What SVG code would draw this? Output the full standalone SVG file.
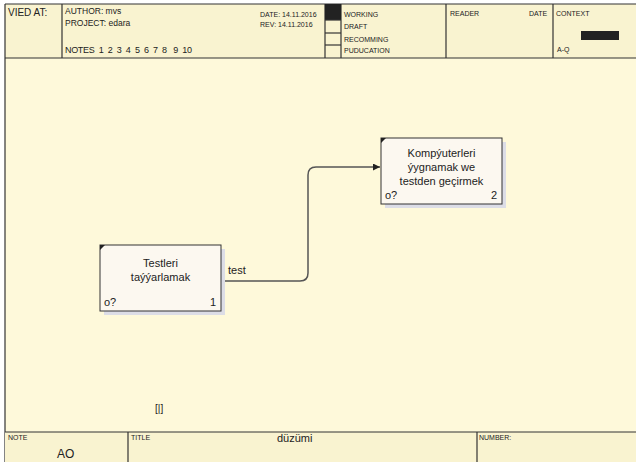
<svg xmlns="http://www.w3.org/2000/svg" width="636" height="462" viewBox="0 0 636 462">
<defs>
<style>
.t{font-family:"Liberation Sans",Arial,sans-serif;fill:#222}
.hs{font-size:7px}
.hm{font-size:8.5px}
.lbl{font-size:11px;fill:#222}
.frame{fill:none;stroke:#333;stroke-width:1.2}
.box{fill:#FCF8F0;stroke:#333;stroke-width:1}
.shadow{fill:#DCDDE6}
.conn{fill:none;stroke:#555;stroke-width:1.5}
</style>
<marker id="arr" viewBox="0 0 10 10" refX="10" refY="5" markerWidth="7" markerHeight="7" orient="auto" markerUnits="userSpaceOnUse">
<path d="M0,0 L10,5 L0,10 z" fill="#222"/>
</marker>
</defs>
<rect x="0" y="0" width="636" height="462" fill="#FEF9DA"/>
<rect x="0" y="0" width="636" height="4" fill="#FFFFFF"/>
<rect x="0" y="0" width="5" height="462" fill="#FFFFFF"/>
<!-- header -->
<g id="header">
<rect x="5" y="4" width="631" height="54" fill="#F9F3D0"/>
<line class="frame" x1="5" y1="4" x2="636" y2="4"/>
<line class="frame" x1="5" y1="58" x2="636" y2="58"/>
<line class="frame" x1="5" y1="4" x2="5" y2="462"/>
<line class="frame" x1="62" y1="4" x2="62" y2="58"/>
<line class="frame" x1="325" y1="4" x2="325" y2="58"/>
<line class="frame" x1="341" y1="4" x2="341" y2="58"/>
<line class="frame" x1="446" y1="4" x2="446" y2="58"/>
<line class="frame" x1="553" y1="4" x2="553" y2="58"/>
<rect x="325" y="4" width="16" height="16" fill="#222"/>
<line class="frame" x1="325" y1="20" x2="341" y2="20"/>
<line class="frame" x1="325" y1="33" x2="341" y2="33"/>
<line class="frame" x1="325" y1="45" x2="341" y2="45"/>
<text class="t" x="8" y="16" font-size="10">VIED AT:</text>
<text class="t hm" x="65" y="14">AUTHOR: mvs</text>
<text class="t hm" x="65" y="26">PROJECT: edara</text>
<text class="t" x="65" y="53" font-size="9" xml:space="preserve" textLength="127" lengthAdjust="spacing">NOTES  1  2  3  4  5  6  7  8   9  10</text>
<text class="t hs" x="260" y="17">DATE:  14.11.2016</text>
<text class="t hs" x="260" y="27">REV:  14.11.2016</text>
<text class="t hs" x="344" y="17">WORKING</text>
<text class="t hs" x="344" y="29">DRAFT</text>
<text class="t hs" x="344" y="42">RECOMMING</text>
<text class="t hs" x="344" y="53">PUDUCATION</text>
<text class="t hs" x="450" y="16">READER</text>
<text class="t hs" x="529" y="16">DATE</text>
<text class="t hs" x="556" y="16">CONTEXT</text>
<rect x="581" y="31" width="38" height="9" fill="#222"/>
<text class="t hs" x="557" y="52">A-Q</text>
</g>
<!-- footer -->
<g id="footer">
<rect x="5" y="432" width="631" height="30" fill="#F9F3D0"/>
<line class="frame" x1="5" y1="432" x2="636" y2="432"/>
<line class="frame" x1="128" y1="432" x2="128" y2="462"/>
<line class="frame" x1="477" y1="432" x2="477" y2="462"/>
<text class="t hs" x="8" y="440">NOTE</text>
<text class="t" x="57" y="458" font-size="12">AO</text>
<text class="t hs" x="131" y="440">TITLE</text>
<text class="t" x="277" y="442" font-size="11">düzümi</text>
<text class="t hs" x="479" y="440">NUMBER:</text>
</g>
<text class="t" x="155" y="412" font-size="10">[|]</text>
<!-- connectors -->
<g id="connectors">
<path class="conn" d="M221,281 H300 Q308,281 308,273 V175 Q308,167 316,167 H380" marker-end="url(#arr)"/>
<text class="t lbl" x="228" y="274">test</text>
</g>
<!-- node 1 -->
<g id="node1">
<rect class="shadow" x="104" y="249" width="121" height="66"/>
<rect class="box" x="100" y="245" width="121" height="66"/>
<path d="M100,245 h5 l-5,5 z" fill="#222"/>
<text class="t lbl" x="160.5" y="267" text-anchor="middle">Testleri</text>
<text class="t lbl" x="160.5" y="281" text-anchor="middle">taýýarlamak</text>
<text class="t lbl" x="104" y="306">o?</text>
<text class="t lbl" x="216" y="306" text-anchor="end">1</text>
</g>
<!-- node 2 -->
<g id="node2">
<rect class="shadow" x="385" y="142" width="121" height="66"/>
<rect class="box" x="381" y="138" width="121" height="66"/>
<path d="M381,138 h5 l-5,5 z" fill="#222"/>
<text class="t lbl" x="441.5" y="157" text-anchor="middle">Kompýuterleri</text>
<text class="t lbl" x="441.5" y="171" text-anchor="middle">ýygnamak we</text>
<text class="t lbl" x="441.5" y="185" text-anchor="middle">testden geçirmek</text>
<text class="t lbl" x="385" y="199">o?</text>
<text class="t lbl" x="497" y="199" text-anchor="end">2</text>
</g>
</svg>
